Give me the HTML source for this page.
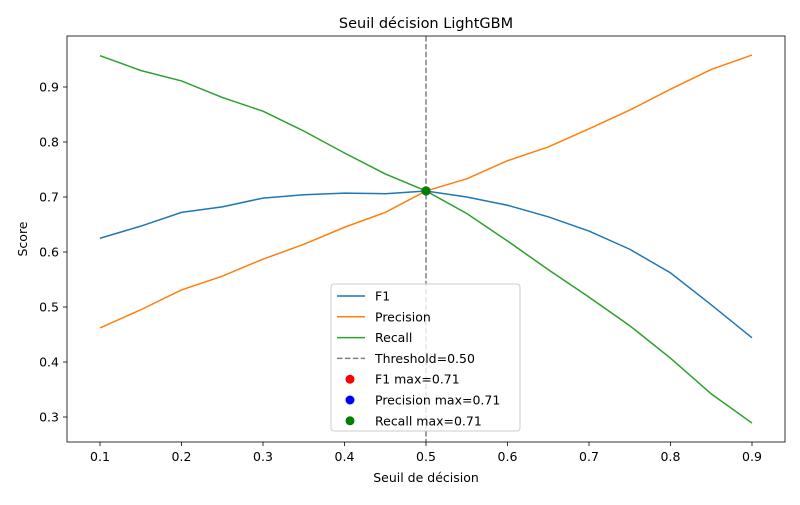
<!DOCTYPE html>
<html><head><meta charset="utf-8"><style>
body{margin:0;background:#fff;font-family:"Liberation Sans","DejaVu Sans",sans-serif;}
svg text{font-family:"DejaVu Sans","Liberation Sans",sans-serif;}
</style></head><body>
<svg id="chart" width="800" height="500" xmlns="http://www.w3.org/2000/svg"></svg>
<script>
const thresholds=[0.1,0.15,0.2,0.25,0.3,0.35,0.4,0.45,0.5,0.55,0.6,0.65,0.7,0.75,0.8,0.85,0.9];
const f1=[0.625,0.647,0.672,0.682,0.698,0.704,0.707,0.706,0.711,0.700,0.685,0.664,0.638,0.605,0.562,0.504,0.444];
const precision=[0.462,0.495,0.531,0.556,0.587,0.614,0.645,0.672,0.711,0.733,0.766,0.791,0.824,0.858,0.896,0.932,0.958];
const recall=[0.957,0.930,0.911,0.881,0.856,0.820,0.780,0.742,0.711,0.670,0.620,0.568,0.518,0.466,0.407,0.342,0.289];
const xTicks=[0.1,0.2,0.3,0.4,0.5,0.6,0.7,0.8,0.9];
const yTicks=[0.3,0.4,0.5,0.6,0.7,0.8,0.9];
const threshold=0.5;
const maxPoint=[0.5,0.711];

const NS="http://www.w3.org/2000/svg";
const svg=document.getElementById('chart');
const L=67,R=785,T=36,B=442;
const X=v=>100+(v-0.1)*815;
const Y=v=>87+(0.9-v)*550;
function el(t,a,txt){const e=document.createElementNS(NS,t);for(const k in a)e.setAttribute(k,a[k]);if(txt!=null)e.textContent=txt;svg.appendChild(e);return e;}

let e=el('rect',{x:L,y:T,width:R-L,height:B-T,fill:'#fff',stroke:'none'});



xTicks.forEach(v=>{
 let t=el('line',{x1:X(v),x2:X(v),y1:B,y2:B+4,stroke:'#000','stroke-width':0.8});
 
 
 let l=el('text',{x:X(v),y:B+19,'text-anchor':'middle','font-size':12.5},v.toFixed(1));
 
 
});
yTicks.forEach(v=>{
 let t=el('line',{x1:L-4,x2:L,y1:Y(v),y2:Y(v),stroke:'#000','stroke-width':0.8});
 
 
 let l=el('text',{x:L-8,y:Y(v)+4.5,'text-anchor':'end','font-size':12.5},v.toFixed(1));
 
 
});

const series=[[f1,'#1f77b4','f1-line'],[precision,'#ff7f0e','precision-line'],[recall,'#2ca02c','recall-line']];
series.forEach(([d,c,n])=>{
 let p=el('polyline',{points:d.map((v,i)=>X(thresholds[i])+','+Y(v)).join(' '),fill:'none',stroke:c,'stroke-width':1.5});
 
 
});
let th=el('line',{x1:X(threshold),x2:X(threshold),y1:T,y2:B,stroke:'#808080','stroke-width':1.5,'stroke-dasharray':'5.5,2.4'});


[['red','f1-max-point'],['blue','precision-max-point'],['green','recall-max-point']].forEach(([c,n])=>{
 let m=el('circle',{cx:X(maxPoint[0]),cy:Y(maxPoint[1]),r:4.5,fill:c});
 
 
});

let fr=el('rect',{x:L,y:T,width:R-L,height:B-T,fill:'none',stroke:'#000','stroke-width':0.8});



let tt=el('text',{x:(L+R)/2,y:28,'text-anchor':'middle','font-size':14.5},'Seuil décision LightGBM');


let xt=el('text',{x:(L+R)/2,y:482,'text-anchor':'middle','font-size':12.5},'Seuil de décision');


let yt=el('text',{x:27,y:(T+B)/2,'text-anchor':'middle','font-size':12.5,transform:`rotate(-90 27 ${(T+B)/2})`},'Score');



let lg=el('rect',{x:331,y:284,width:189,height:147,fill:'#fff','fill-opacity':0.8,stroke:'#ccc',rx:3});


const entries=[['line','#1f77b4','F1'],['line','#ff7f0e','Precision'],['line','#2ca02c','Recall'],['dash','#808080','Threshold=0.50'],['dot','red','F1 max=0.71'],['dot','blue','Precision max=0.71'],['dot','green','Recall max=0.71']];
entries.forEach(([k,c,t],i)=>{
 const y=296+i*20.8;
 let m;
 if(k==='dot') m=el('circle',{cx:350,cy:y,r:4.5,fill:c});
 else m=el('line',{x1:337,x2:365,y1:y,y2:y,stroke:c,'stroke-width':1.5,'stroke-dasharray':k==='dash'?'5.5,2.4':'none'});
 
 
 let tx=el('text',{x:375,y:y+4.5,'font-size':12.5},t);
 
 
});
</script>
</body></html>
